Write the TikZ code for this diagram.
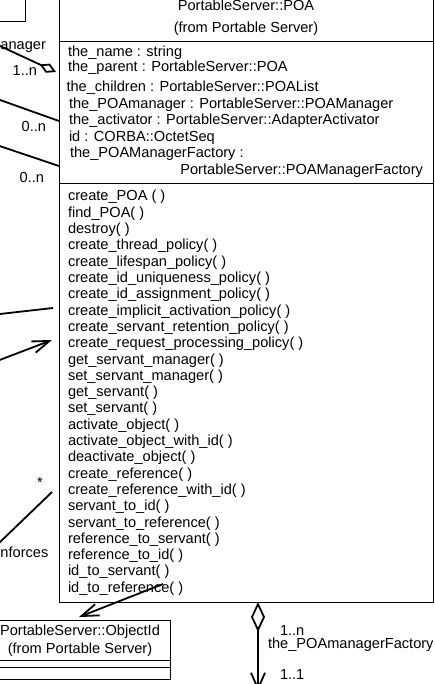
\documentclass[tikz,border=0pt]{standalone}
\usepackage{fontspec}
\setmainfont{Liberation Sans}
\usetikzlibrary{arrows.meta,positioning}

\begin{document}
\begin{tikzpicture}[
    x=1pt,
    y=-1pt,
    every node/.style={font=\fontsize{14.6}{16}\selectfont, inner sep=0pt, outer sep=0pt},
    member/.style={anchor=base west},
    heading/.style={anchor=base},
    multlabel/.style={anchor=base east},
    classbox/.style={draw, line width=0.9pt},
    assocline/.style={line width=1.8pt},
    navarrow/.style={-{Straight Barb[length=17pt, width=12pt]}, line width=1.8pt},
    smallaggr/.style={{Diamond[open, length=18pt, width=10pt]}-, line width=1.8pt},
    bigaggr/.style={{Diamond[open, length=30pt, width=14pt]}-{Straight Barb[length=16pt, width=14pt]}, line width=1.8pt}
  ]
  \useasboundingbox (0,0) rectangle (434,684);
  \fill[white] (0,0) rectangle (434,684);
  \clip (0,0) rectangle (434,684);

  % neighbour class, top left
  \draw[classbox] (-20,-20) rectangle (25,21);

  % PortableServer::POA
  \draw[classbox] (59,-10) rectangle (433,602);
  \draw[classbox] (59,41) -- (433,41);
  \draw[classbox] (59,183) -- (433,183);
  \node[heading] (poaname) at (246,11) {PortableServer::POA};
  \node[heading] (poafrom) at (246,33) {(from Portable Server)};

  \node[member] (attr1) at (68,57) {the\_name : string};
  \node[member] (attr2) at (68,72) {the\_parent : PortableServer::POA};
  \node[member] (attr3) at (66.5,92) {the\_children : PortableServer::POAList};
  \node[member] (attr4) at (69,108.5) {the\_POAmanager : PortableServer::POAManager};
  \node[member] (attr5) at (69,125) {the\_activator : PortableServer::AdapterActivator};
  \node[member] (attr6) at (69,141.5) {id : CORBA::OctetSeq};
  \node[member] (attr7) at (70,158) {the\_POAManagerFactory :};
  \node[anchor=base east] (attr7b) at (423,174.5) {PortableServer::POAManagerFactory};

  \foreach \op [count=\i from 0] in {create\_POA ( ), find\_POA( ), destroy( ),
      create\_thread\_policy( ), create\_lifespan\_policy( ),
      create\_id\_uniqueness\_policy( ), create\_id\_assignment\_policy( ),
      create\_implicit\_activation\_policy( ), create\_servant\_retention\_policy( ),
      create\_request\_processing\_policy( ), get\_servant\_manager( ),
      set\_servant\_manager( ), get\_servant( ), set\_servant( ),
      activate\_object( ), activate\_object\_with\_id( ), deactivate\_object( ),
      create\_reference( ), create\_reference\_with\_id( ), servant\_to\_id( ),
      servant\_to\_reference( ), reference\_to\_servant( ), reference\_to\_id( ),
      id\_to\_servant( ), id\_to\_reference( )}
    \node[member] (op\i) at (68,{201+16.3*\i}) {\op};

  % PortableServer::ObjectId
  \draw[classbox] (-12,620) rectangle (170,679);
  \draw[classbox] (-12,660) -- (170,660);
  \draw[classbox] (-12,667) -- (170,667);
  \node[heading] (oidname) at (80,635.5) {PortableServer::ObjectId};
  \node[heading] (oidfrom) at (80,653.5) {(from Portable Server)};

  % associations coming in from the left
  \coordinate (mgrFar) at (-10,41.4);
  \coordinate (mgrTip) at (56,72);
  \coordinate (chFar) at (-10,96.4);
  \coordinate (chEnd) at (59,121);
  \coordinate (actFar) at (-10,142.8);
  \coordinate (actEnd) at (59,166);
  \coordinate (polFar) at (-10,315.1);
  \coordinate (polEnd) at (53,308);
  \coordinate (navFar) at (-10,363.7);
  \coordinate (navTip) at (52,340);
  \coordinate (enfFar) at (-10,551.7);
  \coordinate (enfEnd) at (52,492);

  \draw[smallaggr] (mgrTip) -- (mgrFar);
  \draw[assocline] (chFar) -- (chEnd);
  \draw[assocline] (actFar) -- (actEnd);
  \draw[assocline] (polFar) -- (polEnd);
  \draw[navarrow] (navFar) -- (navTip);
  \draw[assocline] (enfFar) -- (enfEnd);

  \node[member] (mgrrole) at (0.5,50) {anager};
  \node[multlabel] (mgrmult) at (37,76) {1..n};
  \node[multlabel] (chmult) at (46,132) {0..n};
  \node[multlabel] (actmult) at (44,183) {0..n};
  \node[heading] (enfmult) at (40,487) {*};
  \node[member] (enfrole) at (0.5,557) {nforces};

  % POA to ObjectId
  \coordinate (oidStart) at (163,584);
  \coordinate (oidTip) at (79,617);
  \draw[navarrow] (oidStart) -- (oidTip);

  % POA to its manager factory
  \coordinate (facTop) at (258,602);
  \coordinate (facTip) at (258,691);
  \draw[bigaggr] (facTop) -- (facTip);
  \node[member] (facmult) at (280,635) {1..n};
  \node[member] (facrole) at (268,648.5) {the\_POAmanagerFactory};
  \node[member] (facmult2) at (280,679.5) {1..1};
\end{tikzpicture}
\end{document}
